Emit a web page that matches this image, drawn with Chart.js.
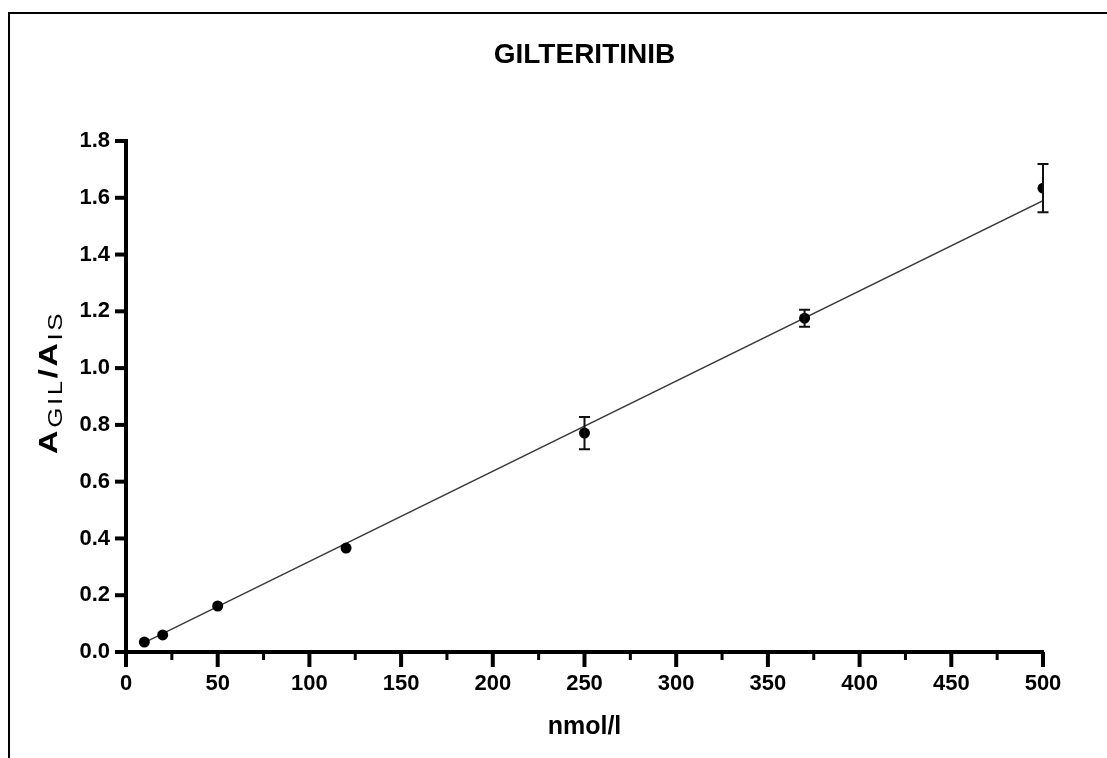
<!DOCTYPE html>
<html>
<head>
<meta charset="utf-8">
<title>GILTERITINIB</title>
<script src="https://cdn.jsdelivr.net/npm/chart.js@4"></script>
<style>
  html, body { margin: 0; padding: 0; background: #fff; }
  #wrap { position: relative; width: 1107px; height: 758px; overflow: hidden; }
  #frame { position: absolute; left: 8px; top: 12px; right: -4px; bottom: -4px; border-top: 2px solid #000; border-left: 2px solid #000; }
  canvas { position: absolute; left: 0; top: 0; }
</style>
</head>
<body>
<div id="wrap">
  <div id="frame"></div>
  <canvas id="calibChart" width="1107" height="758"></canvas>
</div>
<script>
// calibration data
const concentrations = [10, 20, 50, 120, 250, 370, 500]; // nmol/l
const ratios = [0.035, 0.060, 0.162, 0.366, 0.771, 1.176, 1.634]; // A_GIL / A_IS
const errors = [0, 0, 0, 0, 0.057, 0.030, 0.085];
const fitX = [10, 500];
const fitY = [0.033, 1.590];
const xMajorStep = 50;
const xMinorStep = 25;
const yStep = 0.2;

const FONT = "'Liberation Sans', Arial, sans-serif";

const errorBars = {
  id: "errorBars",
  afterDatasetsDraw(chart) {
    const { ctx, scales: { x, y } } = chart;
    ctx.save();
    ctx.strokeStyle = "#111";
    ctx.lineWidth = 2;
    concentrations.forEach((c, i) => {
      if (!errors[i]) return;
      const px = x.getPixelForValue(c);
      const top = y.getPixelForValue(ratios[i] + errors[i]);
      const bot = y.getPixelForValue(ratios[i] - errors[i]);
      ctx.beginPath();
      ctx.moveTo(px, top); ctx.lineTo(px, bot);
      ctx.moveTo(px - 5.5, top); ctx.lineTo(px + 5.5, top);
      ctx.moveTo(px - 5.5, bot); ctx.lineTo(px + 5.5, bot);
      ctx.stroke();
    });
    ctx.restore();
  },
};

// tick marks (major + minor on x), titles
const decorations = {
  id: "decorations",
  afterDraw(chart) {
    const { ctx, chartArea, scales: { x, y } } = chart;
    ctx.save();
    ctx.strokeStyle = "#000";
    for (let v = x.min; v <= x.max; v += xMinorStep) {
      const px = x.getPixelForValue(v);
      const major = v % xMajorStep === 0;
      ctx.lineWidth = major ? 4 : 3;
      ctx.beginPath();
      ctx.moveTo(px, chartArea.bottom);
      ctx.lineTo(px, chartArea.bottom + (major ? 15 : 8));
      ctx.stroke();
    }
    y.ticks.forEach((t) => {
      const py = y.getPixelForValue(t.value);
      ctx.lineWidth = 4;
      ctx.beginPath();
      ctx.moveTo(chartArea.left, py);
      ctx.lineTo(chartArea.left - 11, py);
      ctx.stroke();
    });

    // chart title
    ctx.fillStyle = "#000";
    ctx.textAlign = "center";
    ctx.textBaseline = "alphabetic";
    ctx.font = "bold 28px " + FONT;
    ctx.fillText("GILTERITINIB", (chartArea.left + chartArea.right) / 2, 63);

    // y axis title with subscripts: A_GIL/A_IS
    const parts = [
      { t: "A", sub: false },
      { t: "GIL", sub: true },
      { t: "/", sub: false },
      { t: "A", sub: false },
      { t: "IS", sub: true },
    ];
    ctx.translate(57, y.getPixelForValue(0.95));
    ctx.rotate(-Math.PI / 2);
    ctx.scale(1.3, 1);
    ctx.letterSpacing = "2px";
    ctx.textAlign = "left";
    let total = 0;
    parts.forEach((p) => {
      ctx.font = p.sub ? "20px " + FONT : "bold 25px " + FONT;
      p.w = ctx.measureText(p.t).width;
      total += p.w;
    });
    let cx = -total / 2;
    parts.forEach((p) => {
      ctx.font = p.sub ? "20px " + FONT : "bold 25px " + FONT;
      ctx.fillText(p.t, cx, p.sub ? 5 : 0);
      cx += p.w;
    });
    ctx.restore();
  },
};

new Chart(document.getElementById("calibChart").getContext("2d"), {
  type: "scatter",
  data: {
    datasets: [
      {
        label: "mean",
        data: concentrations.map((c, i) => ({ x: c, y: ratios[i] })),
        pointRadius: 5.5,
        pointHoverRadius: 5.5,
        backgroundColor: "#000",
        borderColor: "#000",
        borderWidth: 0,
        showLine: false,
      },
      {
        label: "fit",
        data: fitX.map((v, i) => ({ x: v, y: fitY[i] })),
        showLine: true,
        borderColor: "#3a3a3a",
        borderWidth: 1.5,
        pointRadius: 0,
      },
    ],
  },
  options: {
    responsive: false,
    animation: false,
    layout: { padding: { top: 141, right: 64, bottom: 0, left: 0 } },
    plugins: {
      legend: { display: false },
      tooltip: { enabled: false },
      title: { display: false },
    },
    scales: {
      x: {
        type: "linear",
        min: 0,
        max: 500,
        afterFit: (scale) => { scale.height = 106; },
        grid: { display: false, drawTicks: false },
        border: { display: true, color: "#000", width: 4 },
        ticks: {
          stepSize: xMajorStep,
          color: "#000",
          padding: 19,
          font: { family: FONT, size: 22, weight: "bold" },
        },
        title: {
          display: true,
          text: "nmol/l",
          color: "#000",
          padding: { top: 0, bottom: 16 },
          font: { family: FONT, size: 25, weight: "bold" },
        },
      },
      y: {
        type: "linear",
        min: 0,
        max: 1.8,
        afterFit: (scale) => { scale.width = 126; },
        grid: { display: false, drawTicks: false },
        border: { display: true, color: "#000", width: 4 },
        ticks: {
          stepSize: yStep,
          color: "#000",
          padding: 16,
          font: { family: FONT, size: 22, weight: "bold" },
          callback: (v) => v.toFixed(1),
        },
      },
    },
  },
  plugins: [errorBars, decorations],
});
</script>
</body>
</html>
